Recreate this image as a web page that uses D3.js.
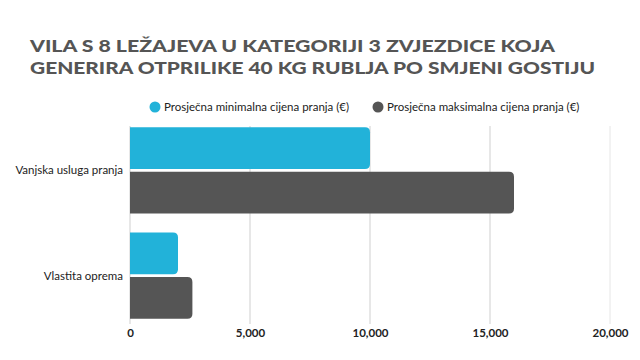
<!DOCTYPE html>
<html>
<head>
<meta charset="utf-8">
<script src="https://cdn.jsdelivr.net/npm/d3@7"></script>
<style>
  body { margin: 0; background: #fff; }
  svg { font-family: "Lato", "Open Sans", sans-serif; }
</style>
</head>
<body>
<div id="chart"></div>
<script>
var categories = ["Vanjska usluga pranja", "Vlastita oprema"];
var seriesNames = ["Prosječna minimalna cijena pranja (€)", "Prosječna maksimalna cijena pranja (€)"];
var minValues = [10000, 2000];
var maxValues = [16000, 2600];
var xTicks = [0, 5000, 10000, 15000, 20000];
var titleLines = ["VILA S 8 LEŽAJEVA U KATEGORIJI 3 ZVJEZDICE KOJA", "GENERIRA OTPRILIKE 40 KG RUBLJA PO SMJENI GOSTIJU"];
var titleWidths = [525, 565];
var colors = ["#22b2d9", "#555555"];

var data = categories.map(function(c, i) {
  return { category: c, values: [minValues[i], maxValues[i]] };
});

var width = 640, height = 360;
var margin = {top: 122, right: 30, bottom: 36, left: 130};

var svg = d3.select("#chart").append("svg")
    .attr("width", width)
    .attr("height", height);

// title
svg.append("g").selectAll("text")
    .data(titleLines)
  .enter().append("text")
    .attr("x", 30)
    .attr("y", function(d, i) { return 51.5 + i * 22.5; })
    .attr("fill", "#555")
    .attr("font-size", 17.5)
    .attr("font-weight", 900)
    .attr("textLength", function(d, i) { return titleWidths[i]; })
    .attr("lengthAdjust", "spacingAndGlyphs")
    .text(function(d) { return d; });

var x = d3.scaleLinear().domain([0, 20000]).range([margin.left, width - margin.right]);
var y0 = d3.scaleBand().domain(categories).range([margin.top, height - margin.bottom]).paddingInner(0.18).paddingOuter(0.05);
var y1 = d3.scaleBand().domain([0, 1]).range([0, y0.bandwidth()]).paddingInner(0.06);

// grid
svg.append("g").selectAll("line")
    .data(xTicks)
  .enter().append("line")
    .attr("x1", function(d) { return x(d); })
    .attr("x2", function(d) { return x(d); })
    .attr("y1", margin.top + 4)
    .attr("y2", height - margin.bottom)
    .attr("stroke", function(d, i) { return i === xTicks.length - 1 ? "#e6e6e6" : "#cfcfcf"; })
    .attr("stroke-width", 1);

function barPath(x0, x1, yy, h, r) {
  r = Math.min(r, x1 - x0);
  return "M" + x0 + "," + yy + "H" + (x1 - r) + "Q" + x1 + "," + yy + " " + x1 + "," + (yy + r) +
    "V" + (yy + h - r) + "Q" + x1 + "," + (yy + h) + " " + (x1 - r) + "," + (yy + h) + "H" + x0 + "Z";
}

var groups = svg.append("g").selectAll("g")
    .data(data)
  .enter().append("g")
    .attr("transform", function(d) { return "translate(0," + y0(d.category) + ")"; });

groups.selectAll("path")
    .data(function(d) { return d.values; })
  .enter().append("path")
    .attr("d", function(d, i) { return barPath(x(0), x(d), y1(i), y1.bandwidth(), 5); })
    .attr("fill", function(d, i) { return colors[i]; });

// category labels
svg.append("g").selectAll("text")
    .data(categories)
  .enter().append("text")
    .attr("x", margin.left - 7)
    .attr("y", function(d) { return y0(d) + y0.bandwidth() / 2; })
    .attr("dy", "0.35em")
    .attr("text-anchor", "end")
    .attr("font-size", 11.5)
    .attr("fill", "#222")
    .text(function(d) { return d; });

// x axis
var xAxis = svg.append("g")
    .attr("transform", "translate(0," + (height - margin.bottom) + ")")
    .call(d3.axisBottom(x).tickValues(xTicks).tickSize(0).tickPadding(5).tickFormat(d3.format(",")));
xAxis.select(".domain").remove();
xAxis.selectAll("text")
    .attr("font-family", "Lato, sans-serif")
    .attr("font-size", 11.5)
    .attr("font-weight", 700)
    .attr("fill", "#222");

// legend
var legendX = [155, 378];
var legend = svg.append("g").selectAll("g")
    .data(seriesNames)
  .enter().append("g")
    .attr("transform", function(d, i) { return "translate(" + legendX[i] + ",107)"; });
legend.append("circle")
    .attr("r", 5.5)
    .attr("fill", function(d, i) { return colors[i]; });
legend.append("text")
    .attr("x", 9)
    .attr("dy", "0.35em")
    .attr("font-size", 11.5)
    .attr("fill", "#222")
    .text(function(d) { return d; });
</script>
</body>
</html>
